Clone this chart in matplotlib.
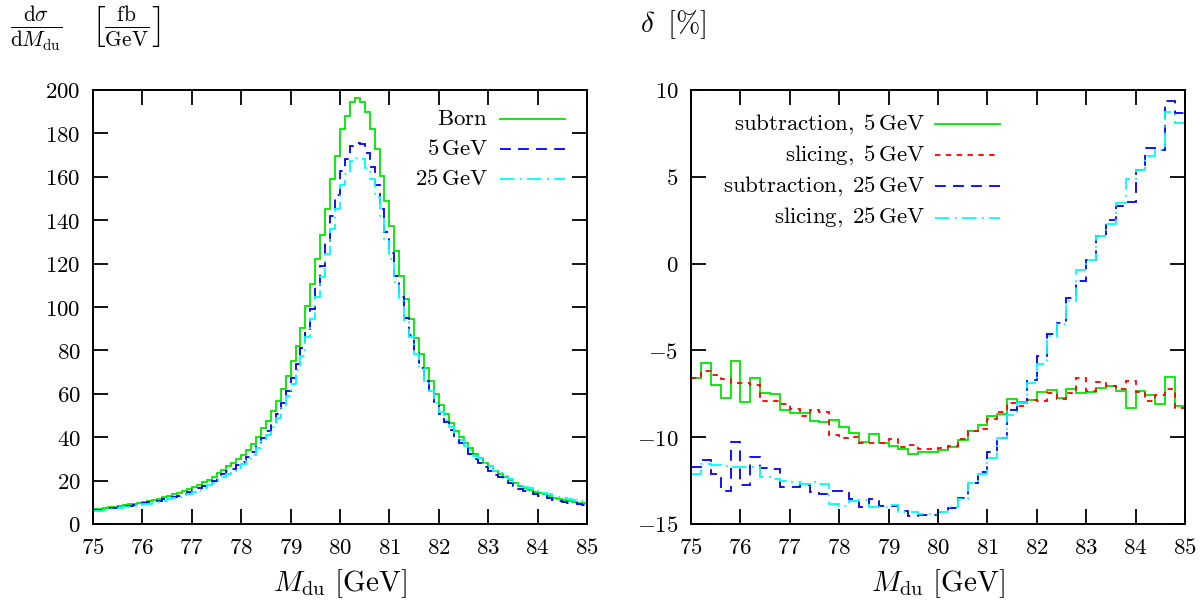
import numpy as np
import matplotlib
matplotlib.use("Agg")
import matplotlib.pyplot as plt
from matplotlib.ticker import FuncFormatter, MultipleLocator
from matplotlib.lines import Line2D

plt.rcParams['mathtext.fontset'] = 'cm'
plt.rcParams['font.family'] = ['DejaVu Serif']

# ---------------- data ----------------
m_lo, m_hi = 75.0, 85.0
left_bin = 0.1     # GeV, left panel histogram bins
right_bin = 0.2    # GeV, right panel histogram bins

born = [6.9, 7.1, 7.4, 7.7, 8.0, 8.3, 8.7, 9.0, 9.4, 9.8,
        10.3, 10.7, 11.2, 11.7, 12.3, 12.9, 13.6, 14.3, 15.1, 16.0,
        17.0, 18.0, 19.2, 20.4, 21.8, 23.3, 25.0, 26.6, 28.3, 30.0,
        32.0, 34.2, 36.8, 40.3, 44.2, 47.6, 52.2, 56.8, 62.2, 68.4,
        75.0, 82.2, 90.4, 100.4, 110.4, 121.9, 133.0, 145.3, 159.0, 169.7,
        182.0, 188.1, 194.6, 196.2, 194.6, 190.0, 182.0, 172.7, 160.4, 148.9,
        137.3, 125.8, 114.2, 103.8, 94.5, 85.8, 78.4, 71.8, 65.7, 60.0,
        55.0, 50.8, 46.5, 42.7, 40.3, 37.3, 34.9, 32.2, 30.3, 28.0,
        26.5, 24.5, 23.1, 21.6, 20.3, 18.8, 17.6, 16.5, 15.7, 14.9,
        14.2, 13.7, 12.9, 12.2, 11.5, 11.1, 10.6, 10.3, 9.9, 9.5]

cut5 = [6.4, 6.6, 6.9, 7.2, 7.5, 7.8, 8.1, 8.4, 8.8, 9.1,
        9.6, 10.0, 10.3, 10.8, 11.3, 11.9, 12.5, 13.1, 13.8, 14.7,
        15.6, 16.5, 17.5, 18.6, 20.0, 21.3, 22.9, 24.3, 25.5, 27.0,
        28.8, 30.8, 33.1, 36.3, 39.6, 42.7, 46.8, 50.9, 55.8, 61.4,
        67.4, 73.9, 80.9, 89.8, 98.9, 109.2, 118.8, 129.8, 142.0, 151.6,
        162.7, 168.1, 174.1, 175.6, 174.9, 170.8, 164.5, 156.1, 145.1, 134.7,
        125.0, 114.5, 104.5, 95.0, 86.9, 78.9, 72.0, 65.9, 60.5, 55.3,
        50.7, 46.8, 43.1, 39.5, 37.2, 34.4, 32.3, 29.8, 28.3, 26.2,
        24.6, 22.7, 21.5, 20.1, 18.9, 17.5, 16.3, 15.3, 14.6, 13.9,
        13.1, 12.7, 11.9, 11.2, 10.6, 10.3, 9.8, 9.6, 9.1, 8.7]

cut25 = [6.1, 6.2, 6.5, 6.8, 7.1, 7.3, 7.7, 7.9, 8.3, 8.7,
         9.1, 9.4, 9.9, 10.3, 10.8, 11.3, 11.9, 12.5, 13.2, 14.0,
         14.9, 15.7, 16.8, 17.8, 19.1, 20.4, 21.8, 23.2, 24.4, 25.8,
         27.5, 29.4, 31.8, 34.8, 38.2, 41.1, 44.9, 48.8, 53.5, 58.8,
         64.6, 70.8, 77.5, 86.0, 94.6, 104.4, 113.9, 124.4, 136.1, 145.3,
         156.0, 161.2, 167.3, 168.6, 168.1, 164.2, 159.0, 150.9, 140.9, 130.8,
         121.9, 111.7, 102.8, 93.4, 86.2, 78.3, 72.1, 66.0, 61.2, 55.9,
         51.8, 47.9, 44.6, 40.9, 38.9, 36.0, 34.1, 31.5, 30.2, 27.9,
         26.6, 24.5, 23.5, 21.9, 20.8, 19.2, 18.2, 17.1, 16.5, 15.6,
         15.0, 14.4, 13.7, 13.0, 12.3, 11.8, 11.5, 11.2, 10.7, 10.3]

sub5 = [-6.57, -5.71, -7.01, -7.72, -5.61, -7.97, -6.61, -7.43, -7.49, -8.43,
        -8.58, -8.62, -9.08, -9.10, -9.00, -9.39, -9.73, -10.27, -9.79, -10.34,
        -10.50, -10.69, -10.98, -10.88, -10.88, -10.73, -10.54, -10.15, -9.64, -9.31,
        -8.77, -8.64, -7.78, -7.97, -7.87, -7.40, -7.28, -7.72, -7.24, -7.43,
        -7.37, -7.16, -7.05, -7.34, -8.29, -7.34, -7.55, -8.10, -6.53, -8.20]

slice5 = [-6.57, -6.19, -6.40, -6.67, -6.86, -6.86, -6.99, -7.91, -7.91, -8.10,
          -8.39, -8.77, -8.43, -8.54, -9.89, -10.02, -9.98, -10.31, -10.31, -10.31,
          -10.11, -10.54, -10.46, -10.69, -10.69, -10.63, -10.50, -10.11, -9.64, -9.54,
          -8.97, -8.54, -8.01, -8.20, -7.87, -7.91, -7.43, -7.78, -7.43, -6.57,
          -7.34, -6.82, -7.05, -7.24, -6.76, -7.37, -7.91, -7.59, -7.24, -8.29]

sub25 = [-11.74, -11.30, -12.13, -13.08, -10.25, -12.76, -11.13, -11.80, -11.84, -12.85,
         -12.87, -12.76, -13.14, -13.28, -13.08, -13.08, -13.56, -14.04, -13.56, -13.95,
         -13.95, -14.27, -14.52, -14.48, -14.48, -14.33, -14.06, -13.52, -12.64, -12.00,
         -10.88, -10.02, -8.45, -8.01, -6.72, -5.30, -4.08, -3.41, -1.97, -0.98,
         0.23, 1.57, 2.53, 3.33, 3.52, 5.40, 6.65, 6.55, 9.39, 8.66]

slice25 = [-12.13, -11.55, -11.60, -11.65, -11.70, -11.70, -11.70, -12.32, -12.40, -12.51,
           -12.60, -12.70, -12.60, -12.70, -13.85, -13.95, -13.66, -13.60, -14.04, -14.04,
           -13.90, -14.33, -14.33, -14.40, -14.40, -14.33, -14.04, -13.56, -12.64, -12.13,
           -11.17, -10.02, -8.74, -8.05, -6.86, -5.80, -4.15, -3.50, -2.17, -0.34,
           0.20, 1.57, 2.30, 3.50, 4.87, 5.40, 6.17, 6.55, 8.72, 8.12]

left_labels = ['Born', r'5$\,$GeV', r'25$\,$GeV']
right_labels = [r'subtraction,$\;$5$\,$GeV', r'slicing,$\;$5$\,$GeV',
                r'subtraction,$\;$25$\,$GeV', r'slicing,$\;$25$\,$GeV']

# ---------------- styling ----------------
GREEN = '#00e600'
BLUE = '#0000ff'
CYAN = '#00ffff'
RED = '#ff0000'
FS = 16.5
LW = 1.3

def mtxt(s):
    # render plain words in Computer Modern roman via mathtext
    parts = s.split('$')
    out = []
    for i, p in enumerate(parts):
        if i % 2 == 0:
            if p:
                out.append(r'\mathrm{' + p.replace(' ', r'\ ') + '}')
        else:
            out.append(p)
    return '$' + ''.join(out) + '$'

W, H = 1204, 611
fig = plt.figure(figsize=(W / 100, H / 100), dpi=100)

def px_axes(x0, x1, y0, y1):
    return fig.add_axes([x0 / W, 1 - y1 / H, (x1 - x0) / W, (y1 - y0) / H])

axL = px_axes(93, 587, 90, 524)
axR = px_axes(691, 1185, 90, 524)

edgesL = np.linspace(m_lo, m_hi, len(born) + 1)
edgesR = np.linspace(m_lo, m_hi, len(sub5) + 1)

styles_left = [
    dict(color=GREEN, lw=LW, ls='-'),
    dict(color=BLUE, lw=LW, ls=(0, (6, 4))),
    dict(color=CYAN, lw=LW, ls=(0, (8, 3, 1, 3))),
]
styles_right = [
    dict(color=GREEN, lw=LW, ls='-'),
    dict(color=RED, lw=LW, ls=(0, (3, 3))),
    dict(color=BLUE, lw=LW, ls=(0, (6, 4))),
    dict(color=CYAN, lw=LW, ls=(0, (8, 3, 1, 3))),
]

for vals, st in zip([born, cut5, cut25], styles_left):
    axL.stairs(vals, edgesL, baseline=None, **st)
for vals, st in zip([sub5, slice5, sub25, slice25], styles_right):
    axR.stairs(vals, edgesR, baseline=None, **st)

fmt = FuncFormatter(lambda v, p: r'$%g$' % v)
for ax in (axL, axR):
    ax.set_xlim(m_lo, m_hi)
    ax.xaxis.set_major_locator(MultipleLocator(1))
    ax.xaxis.set_major_formatter(fmt)
    ax.yaxis.set_major_formatter(fmt)
    ax.tick_params(direction='in', length=10.5, width=1.3, top=True, right=True,
                   labelsize=FS, pad=9, colors='black')
    for s in ax.spines.values():
        s.set_linewidth(1.4)
    ax.set_xlabel(r'$M_{\mathrm{du}}\ [\mathrm{GeV}]$', fontsize=21, labelpad=6)

axL.set_ylim(0, 200)
axL.yaxis.set_major_locator(MultipleLocator(20))
axR.set_ylim(-15, 10)
axR.yaxis.set_major_locator(MultipleLocator(5))

# legends (text right-aligned, sample line to the right), gnuplot style
def legend(ax, labels, styles, x_text, x0, x1, ys):
    for lab, st, y in zip(labels, styles, ys):
        ax.text(x_text, y, mtxt(lab), transform=ax.transAxes, ha='right',
                va='center', fontsize=FS)
        ax.add_line(Line2D([x0, x1], [y, y], transform=ax.transAxes, **st))

legend(axL, left_labels, styles_left, 0.800, 0.824, 0.955, [0.933, 0.864, 0.795])
legend(axR, right_labels, styles_right, 0.474, 0.494, 0.626,
       [0.922, 0.851, 0.778, 0.706])

fig.text(10 / W, 1 - 29 / H,
         r'$\frac{\mathrm{d}\sigma}{\mathrm{d}M_{\mathrm{du}}}\quad\left[\frac{\mathrm{fb}}{\mathrm{GeV}}\right]$',
         fontsize=22, ha='left', va='center')
fig.text(640 / W, 1 - 25 / H, r'$\delta\;\;[\%]$', fontsize=21, ha='left', va='center')

fig.savefig('out.png', dpi=100)
